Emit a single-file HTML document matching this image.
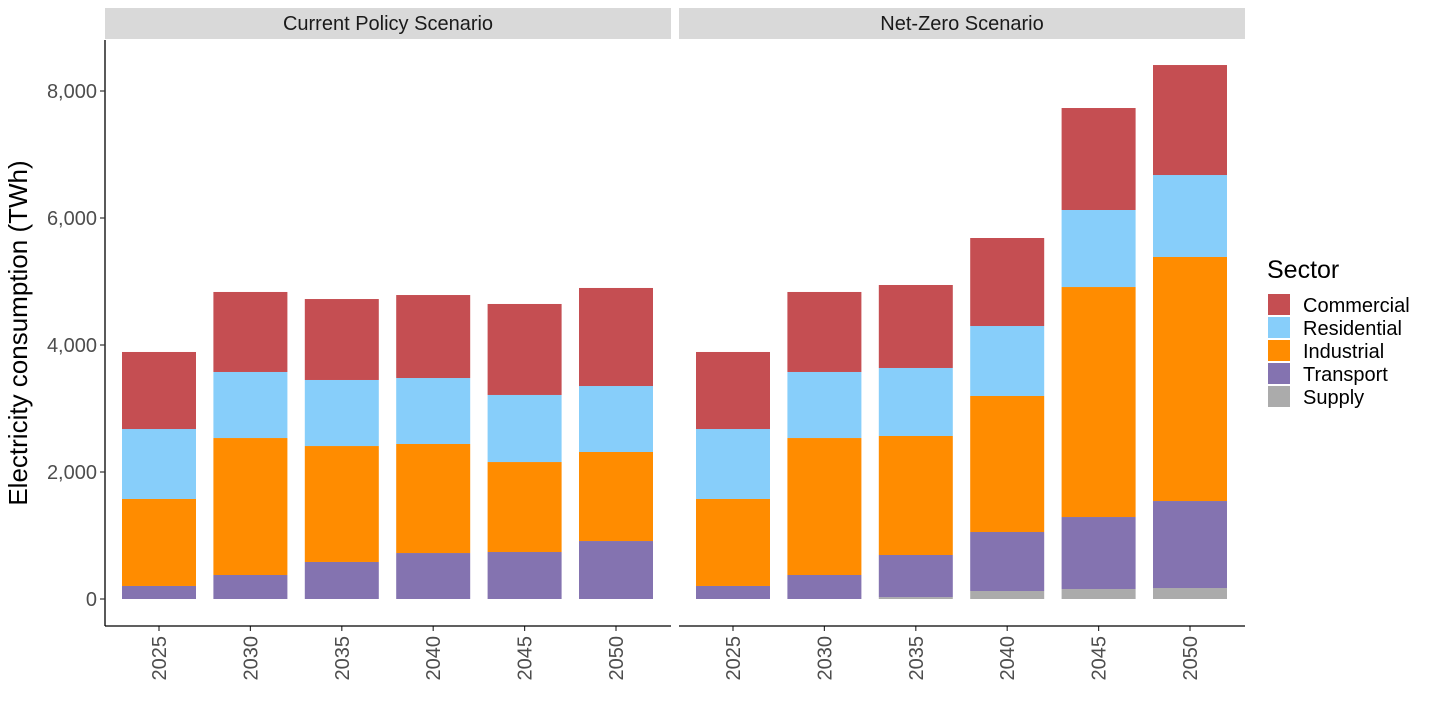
<!DOCTYPE html>
<html><head><meta charset="utf-8">
<style>
body{margin:0;background:#fff;}
svg{display:block;font-family:"Liberation Sans",Arial,sans-serif;}
</style></head>
<body>
<svg id="chart" width="1431" height="715" viewBox="0 0 1431 715"></svg>
<script>
const years = ["2025","2030","2035","2040","2045","2050"];
const panels = ["Current Policy Scenario","Net-Zero Scenario"];
const sectors = ["Supply","Transport","Industrial","Residential","Commercial"];
const colors = {Supply:"#ABABAB",Transport:"#8473B0",Industrial:"#FF8C00",Residential:"#87CEFA",Commercial:"#C54E52"};
// Current Policy values (TWh) per sector
const cpSupply = [0,0,0,0,0,0];
const cpTransport = [205,378,583,724,740,913];
const cpIndustrial = [1370,2157,1826,1717,1417,1402];
const cpResidential = [1102,1040,1040,1039,1056,1039];
const cpCommercial = [1213,1260,1275,1307,1433,1544];
// Net-Zero values (TWh) per sector
const nzSupply = [0,0,30,126,157,173];
const nzTransport = [205,378,663,929,1134,1370];
const nzIndustrial = [1370,2157,1874,2142,3622,3843];
const nzResidential = [1102,1040,1071,1102,1213,1291];
const nzCommercial = [1213,1260,1307,1386,1606,1732];
const yTicks = [0,2000,4000,6000,8000];
const yTickLabels = ["0","2,000","4,000","6,000","8,000"];

const svg = document.getElementById('chart');
const NS = "http://www.w3.org/2000/svg";
function mk(tag, attrs, parent){const e=document.createElementNS(NS,tag);for(const k in attrs)e.setAttribute(k,attrs[k]);(parent||svg).appendChild(e);return e;}
const y0=599, yScale=508/8000;
function Y(v){return y0 - v*yScale;}
const panelX=[105,679], panelW=566, step=91.4, barW=74;
function X(p,i){return panelX[p]+54+i*step;}

const data=[
 {Supply:cpSupply,Transport:cpTransport,Industrial:cpIndustrial,Residential:cpResidential,Commercial:cpCommercial},
 {Supply:nzSupply,Transport:nzTransport,Industrial:nzIndustrial,Residential:nzResidential,Commercial:nzCommercial}
];

panels.forEach((name,p)=>{
  const strip=mk('rect',{x:panelX[p],y:8,width:panelW,height:31,fill:'#D9D9D9'});
  
  
  const t=mk('text',{x:panelX[p]+panelW/2,y:30,'text-anchor':'middle','font-size':20,fill:'#1a1a1a'});
  t.textContent=name;
  
  
  years.forEach((yr,i)=>{
    let cum=0;
    sectors.forEach(s=>{
      const v=data[p][s][i];
      if(v>0){
        const r=mk('rect',{x:X(p,i)-barW/2,y:Y(cum+v),width:barW,height:v*yScale,fill:colors[s]});
        
        
      }
      cum+=v;
    });
    mk('line',{x1:X(p,i),x2:X(p,i),y1:626,y2:631,stroke:'#333','stroke-width':1.2});
    const lx=X(p,i)+7, ly=636;
    const tl=mk('text',{x:lx,y:ly,transform:`rotate(-90 ${lx} ${ly})`,'text-anchor':'end','font-size':20,fill:'#4d4d4d'});
    tl.textContent=yr;
    
    
  });
  mk('line',{x1:panelX[p],x2:panelX[p]+panelW,y1:626,y2:626,stroke:'#000','stroke-width':1.3});
});
mk('line',{x1:105,x2:105,y1:40,y2:626,stroke:'#000','stroke-width':1.3});
yTicks.forEach((v,i)=>{
  mk('line',{x1:100,x2:105,y1:Y(v),y2:Y(v),stroke:'#333','stroke-width':1.2});
  const t=mk('text',{x:97,y:Y(v)+7,'text-anchor':'end','font-size':20,fill:'#4d4d4d'});
  t.textContent=yTickLabels[i];
  
  
});
const yl=mk('text',{x:27,y:333,transform:'rotate(-90 27 333)','text-anchor':'middle','font-size':26,fill:'#000'});
yl.textContent='Electricity consumption (TWh)';



const lt=mk('text',{x:1267,y:278,'font-size':25,fill:'#000'});
lt.textContent='Sector';


["Commercial","Residential","Industrial","Transport","Supply"].forEach((s,i)=>{
  const yy=294+i*23;
  const r=mk('rect',{x:1268,y:yy,width:22,height:21,fill:colors[s]});
  
  
  const t=mk('text',{x:1303,y:yy+18,'font-size':20,fill:'#000'});
  t.textContent=s;
  
  
});
</script>
</body></html>
